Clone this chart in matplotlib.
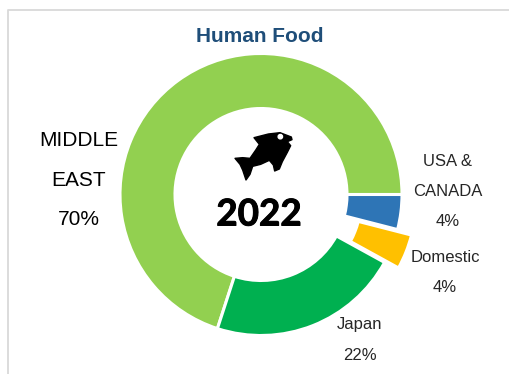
import matplotlib
matplotlib.use("Agg")
import matplotlib.pyplot as plt
import matplotlib.patheffects as pe
from matplotlib.lines import Line2D
from matplotlib.patches import Circle, PathPatch
from matplotlib.path import Path

plt.rcParams['font.family'] = ['Liberation Sans', 'DejaVu Sans']

W, H = 509, 374

# shares in %, drawn counter-clockwise from 3 o'clock
names = ["MIDDLE\n\nEAST\n\n70%", "Japan\n\n22%", "Domestic\n\n4%", "USA &\n\nCANADA\n\n4%"]
shares = [70, 22, 4, 4]
colors = ["#92D050", "#00B050", "#FFC000", "#2E75B6"]
pulled = [0, 0, 15, 0]

fish_outline = [(184, 36), (150, 23), (115, 27), (72, 38), (88, 58), (78, 74),
                (60, 100), (38, 98), (15, 100), (30, 118), (38, 135), (48, 165),
                (60, 148), (68, 124), (92, 118), (118, 106), (130, 120), (134, 138),
                (148, 132), (157, 110), (172, 82), (182, 62), (172, 50), (186, 44)]


def py(y):
    # y measured from the top edge of the figure
    return H - y


fig = plt.figure(figsize=(W / 100, H / 100), dpi=100)
ax = fig.add_axes([0, 0, 1, 1])

ax.pie(shares, colors=colors, explode=pulled, startangle=0, counterclock=True,
       center=(261, py(194.5)), radius=141, frame=True,
       wedgeprops=dict(width=55, edgecolor="white", linewidth=2.2))
ax.set_xlim(0, W)
ax.set_ylim(0, H)
ax.axis("off")

# frame around the chart, open on the right and bottom
ax.add_line(Line2D([8.5, 8.5, W], [0, py(10), py(10)], color="#D9D9D9", lw=1.3))

ax.text(260, py(36.5), "Human Food", color="#1F4E79", fontsize=15, fontweight="bold",
        ha="center", va="center")
ax.text(259, py(215), "2022", color="black", fontsize=26.5, fontweight="bold",
        family="Lato", ha="center", va="center",
        path_effects=[pe.withStroke(linewidth=0.7, foreground="black")])

# category labels, one text per slice
label_pos = [(79, 180), (360, 340), (445, 273), (448, 191)]
label_size = [15, 12, 12, 12]
for name, (lx, ly), size in zip(names, label_pos, label_size):
    ax.text(lx, py(ly), name, color="black" if size == 15 else "#262626", fontsize=size,
            ha="center", va="center", linespacing=1.05 if size == 15 else 1.0)

# fish icon
pts = [(230 + x / 3, py(125 + y / 3)) for x, y in fish_outline]
codes = [Path.MOVETO] + [Path.LINETO] * (len(pts) - 1) + [Path.CLOSEPOLY]
ax.add_patch(PathPatch(Path(pts + [pts[0]], codes), facecolor="black", edgecolor="black",
                       lw=1.0, joinstyle="round"))
ax.add_patch(Circle((230 + 151 / 3, py(125 + 35 / 3)), 2.2, color="white"))

fig.savefig("out.png", dpi=100)
